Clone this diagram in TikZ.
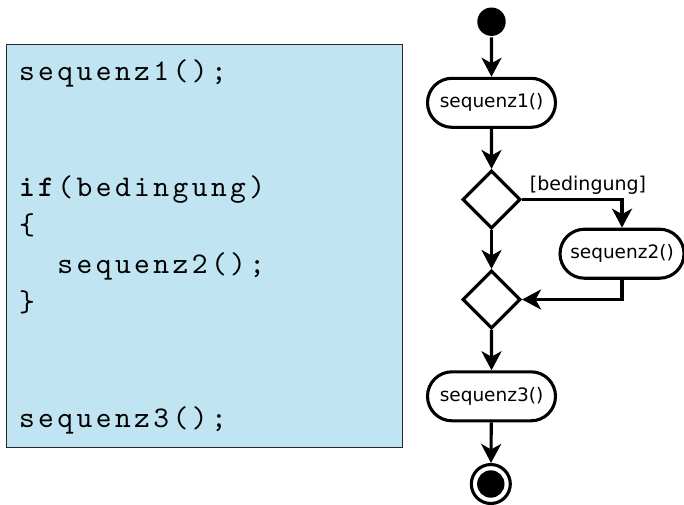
\documentclass[tikz,border=0pt]{standalone}
\usepackage{fontspec}
\usetikzlibrary{arrows.meta, shapes.geometric, shapes.misc}
\newfontfamily\codefont{lmmono10-regular}[Extension=.otf, LetterSpace=11.5, BoldFont=lmmonolt10-bold]
\newfontfamily\diafont{DejaVu Sans}
\definecolor{codeblue}{RGB}{192,228,241}

\begin{document}
\begin{tikzpicture}[x=1pt, y=-1pt, line width=3.1pt,
    flow/.style={-{Stealth[length=19pt, width=20pt, inset=5.5pt]}},
    action/.style={rounded rectangle, draw, fill=white, minimum height=49pt, minimum width=128pt, inner sep=0pt, font=\diafont\fontsize{18.5}{20}\selectfont},
    decision/.style={diamond, draw, fill=white, minimum width=58pt, minimum height=58pt, inner sep=0pt},
    codeline/.style={anchor=base west, inner sep=0pt, font=\codefont\fontsize{30}{34}\selectfont}]
    \useasboundingbox (0,0) rectangle (684,504);

    \begin{scope}
        \draw [draw=black!85, fill=codeblue, line width=1pt] (6,44) rectangle (402,447);
        \node[codeline] (line1) at (17.5,80) {sequenz1();};
        \node[codeline] (line2) at (17.5,196) {\textbf{if}(bedingung)};
        \node[codeline] (line3) at (17.5,234.5) {\{};
        \node[codeline] (line4) at (55.9,273) {sequenz2();};
        \node[codeline] (line5) at (17.5,311.5) {\}};
        \node[codeline] (line6) at (17.5,427) {sequenz3();};
    \end{scope}

    \node[circle, fill=black, minimum size=28.4pt, inner sep=0pt] (start) at (491.5,21.7) {};
    \node[action] (seq1) at (491.5,102.8) {sequenz1()};
    \node[decision] (cond) at (491.5,199.5) {};
    \node[action, minimum width=124pt] (seq2) at (622,253.7) {sequenz2()};
    \node[decision] (merge) at (491.5,299.5) {};
    \node[action] (seq3) at (491.5,396.3) {sequenz3()};
    \node[circle, draw, minimum size=39pt, inner sep=0pt,
        path picture={\fill (path picture bounding box.center) circle (13.7pt);}] (stop) at (490.8,484) {};

    \draw[flow] (start) -- (seq1);
    \draw[flow] (seq1) -- (cond);
    \draw[flow] (cond.east) -| (seq2.north) node[pos=0.33, above=0.5pt, font=\diafont\fontsize{19}{20}\selectfont] {[bedingung]};
    \draw[flow] (cond) -- (merge);
    \draw[flow] (seq2.south) |- (merge.east);
    \draw[flow] (merge) -- (seq3);
    \draw[flow] (seq3) -- (stop);

\end{tikzpicture}
\end{document}
